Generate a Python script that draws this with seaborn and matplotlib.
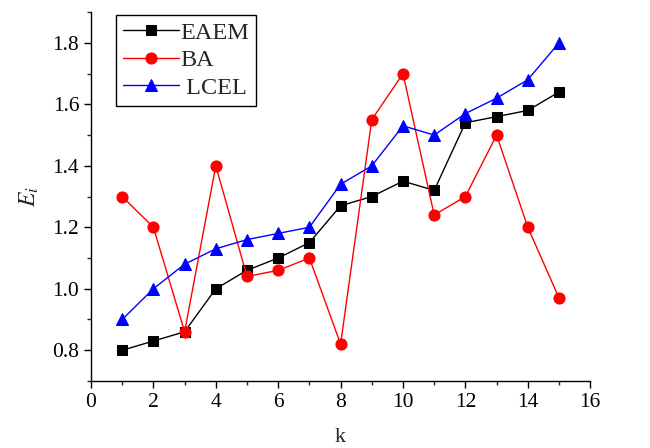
import pandas as pd
import matplotlib
matplotlib.use("Agg")
import matplotlib.pyplot as plt
from matplotlib.ticker import MultipleLocator
import seaborn as sns

# values
k = list(range(1, 16))
eaem = [0.80, 0.83, 0.86, 1.00, 1.06, 1.10, 1.15, 1.27, 1.30, 1.35, 1.32, 1.54, 1.56, 1.58, 1.64]
ba = [1.30, 1.20, 0.86, 1.40, 1.04, 1.06, 1.10, 0.82, 1.55, 1.70, 1.24, 1.30, 1.50, 1.20, 0.97]
lcel = [0.90, 1.00, 1.08, 1.13, 1.16, 1.18, 1.20, 1.34, 1.40, 1.53, 1.50, 1.57, 1.62, 1.68, 1.80]
series = ["EAEM", "BA", "LCEL"]
legend_labels = {"EAEM": "EAEM", "BA": "BA", "LCEL": " LCEL"}

df = pd.DataFrame({
    "k": k * 3,
    "E": eaem + ba + lcel,
    "method": [s for s in series for _ in k],
})

sns.set_style("ticks")
plt.rcParams["font.family"] = ["Liberation Serif", "DejaVu Serif"]
plt.rcParams["mathtext.fontset"] = "stix"

fig = plt.figure(figsize=(6.5, 4.48), dpi=100)
ax = fig.add_axes([0.14, 0.1496, 0.768, 0.8234])

palette = {"EAEM": "black", "BA": "red", "LCEL": "blue"}
markers = {"EAEM": "s", "BA": "o", "LCEL": "^"}
sizes = {"EAEM": 7, "BA": 8, "LCEL": 8.5}
for name in series:
    sub = df[df["method"] == name]
    sns.lineplot(data=sub, x="k", y="E", ax=ax, color=palette[name],
                 marker=markers[name], markersize=sizes[name],
                 markeredgecolor=palette[name], linewidth=1,
                 label=legend_labels[name])

ax.set_xlim(0, 16)
ax.set_ylim(0.70, 1.90)
ax.xaxis.set_major_locator(MultipleLocator(2))
ax.xaxis.set_minor_locator(MultipleLocator(1))
ax.yaxis.set_minor_locator(MultipleLocator(0.1))
ax.set_yticks([0.8, 1.0, 1.2, 1.4, 1.6, 1.8])
ax.set_yticklabels(["0.8", "1.0", "1.2", "1.4", "1.6", "1.8"])
ax.tick_params(which="major", direction="out", length=5, width=1, labelsize=15.5, colors="black")
ax.tick_params(which="minor", direction="out", length=3, width=1)
for side in ["top", "right"]:
    ax.spines[side].set_visible(False)
for side in ["left", "bottom"]:
    ax.spines[side].set_linewidth(1)
    ax.spines[side].set_color("black")

ax.set_xlabel("k", fontsize=16, labelpad=12)
ax.set_ylabel("$E_i$", fontsize=17, labelpad=8)

leg = ax.legend(loc="upper left", bbox_to_anchor=(0.045, 1.0), fontsize=17.5,
                frameon=True, fancybox=False, framealpha=1, edgecolor="black",
                handlelength=2.3, handletextpad=0.05, borderpad=0.3,
                labelspacing=0.22, borderaxespad=0.1)
leg.get_frame().set_linewidth(1)

fig.savefig("out.png", dpi=100)
